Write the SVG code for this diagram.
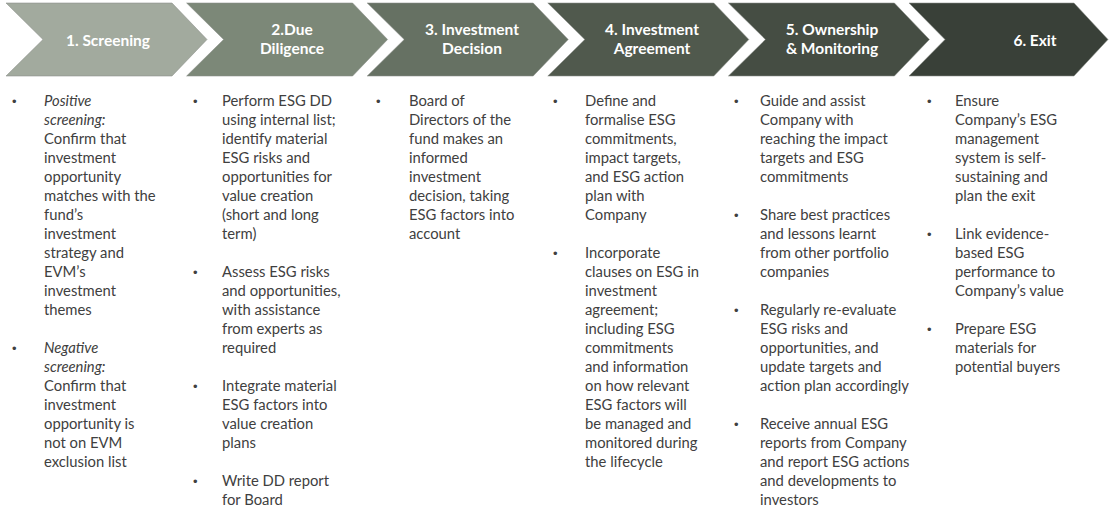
<svg xmlns="http://www.w3.org/2000/svg" width="1116" height="514" viewBox="0 0 1116 514">
<style>
.chev{stroke:#8a8d88;stroke-width:0.8;stroke-opacity:0.7}
.hd{font-family:Lato,"Liberation Sans",sans-serif;font-weight:bold;font-size:15.5px;fill:#ffffff;text-anchor:middle}
.tx{font-family:Lato,"Liberation Sans",sans-serif;font-size:14.8px;fill:#404040}
.bu{font-family:"Liberation Sans",sans-serif;font-size:13px;fill:#404040}
.it{font-style:italic}
</style>
<rect width="1116" height="514" fill="#ffffff"/>
<g id="connectors"></g>
<g id="step1">
<polygon class="chev" fill="#a2aa9e" points="6,3 172,3 207,39.5 172,76 6,76 43,39.5"/>
<text class="hd" x="108" y="45.5">1. Screening</text>
</g>
<g id="step2">
<polygon class="chev" fill="#7c8878" points="186.6,3 352.6,3 387.6,39.5 352.6,76 186.6,76 223.6,39.5"/>
<text class="hd" x="292" y="35">2.Due</text>
<text class="hd" x="292" y="54">Diligence</text>
</g>
<g id="step3">
<polygon class="chev" fill="#667163" points="367.2,3 533.2,3 568.2,39.5 533.2,76 367.2,76 404.2,39.5"/>
<text class="hd" x="472" y="35">3. Investment</text>
<text class="hd" x="472" y="54">Decision</text>
</g>
<g id="step4">
<polygon class="chev" fill="#50594d" points="547.8,3 713.8,3 748.8,39.5 713.8,76 547.8,76 584.8,39.5"/>
<text class="hd" x="652" y="35">4. Investment</text>
<text class="hd" x="652" y="54">Agreement</text>
</g>
<g id="step5">
<polygon class="chev" fill="#454d43" points="728.4,3 894.4,3 929.4,39.5 894.4,76 728.4,76 765.4,39.5"/>
<text class="hd" x="832" y="35">5. Ownership</text>
<text class="hd" x="832" y="54">&amp; Monitoring</text>
</g>
<g id="step6">
<polygon class="chev" fill="#394038" points="909,3 1074,3 1108,39.5 1074,76 909,76 945,39.5"/>
<text class="hd" x="1035" y="45.5">6. Exit</text>
</g>
<g id="col1">
<text class="bu" x="12" y="106">•</text>
<text class="bu" x="12" y="353">•</text>
<text class="tx">
<tspan x="44" y="106" class="it">Positive</tspan>
<tspan x="44" y="125" class="it">screening:</tspan>
<tspan x="44" y="144">Confirm that</tspan>
<tspan x="44" y="163">investment</tspan>
<tspan x="44" y="182">opportunity</tspan>
<tspan x="44" y="201">matches with the</tspan>
<tspan x="44" y="220">fund’s</tspan>
<tspan x="44" y="239">investment</tspan>
<tspan x="44" y="258">strategy and</tspan>
<tspan x="44" y="277">EVM’s</tspan>
<tspan x="44" y="296">investment</tspan>
<tspan x="44" y="315">themes</tspan>
<tspan x="44" y="353" class="it">Negative</tspan>
<tspan x="44" y="372" class="it">screening:</tspan>
<tspan x="44" y="391">Confirm that</tspan>
<tspan x="44" y="410">investment</tspan>
<tspan x="44" y="429">opportunity is</tspan>
<tspan x="44" y="448">not on EVM</tspan>
<tspan x="44" y="467">exclusion list</tspan>
</text>
</g>
<g id="col2">
<text class="bu" x="193" y="106">•</text>
<text class="bu" x="193" y="277">•</text>
<text class="bu" x="193" y="391">•</text>
<text class="bu" x="193" y="486">•</text>
<text class="tx">
<tspan x="222" y="106">Perform ESG DD</tspan>
<tspan x="222" y="125">using internal list;</tspan>
<tspan x="222" y="144">identify material</tspan>
<tspan x="222" y="163">ESG risks and</tspan>
<tspan x="222" y="182">opportunities for</tspan>
<tspan x="222" y="201">value creation</tspan>
<tspan x="222" y="220">(short and long</tspan>
<tspan x="222" y="239">term)</tspan>
<tspan x="222" y="277">Assess ESG risks</tspan>
<tspan x="222" y="296">and opportunities,</tspan>
<tspan x="222" y="315">with assistance</tspan>
<tspan x="222" y="334">from experts as</tspan>
<tspan x="222" y="353">required</tspan>
<tspan x="222" y="391">Integrate material</tspan>
<tspan x="222" y="410">ESG factors into</tspan>
<tspan x="222" y="429">value creation</tspan>
<tspan x="222" y="448">plans</tspan>
<tspan x="222" y="486">Write DD report</tspan>
<tspan x="222" y="505">for Board</tspan>
</text>
</g>
<g id="col3">
<text class="bu" x="376" y="106">•</text>
<text class="tx">
<tspan x="409" y="106">Board of</tspan>
<tspan x="409" y="125">Directors of the</tspan>
<tspan x="409" y="144">fund makes an</tspan>
<tspan x="409" y="163">informed</tspan>
<tspan x="409" y="182">investment</tspan>
<tspan x="409" y="201">decision, taking</tspan>
<tspan x="409" y="220">ESG factors into</tspan>
<tspan x="409" y="239">account</tspan>
</text>
</g>
<g id="col4">
<text class="bu" x="553" y="106">•</text>
<text class="bu" x="553" y="258">•</text>
<text class="tx">
<tspan x="585" y="106">Define and</tspan>
<tspan x="585" y="125">formalise ESG</tspan>
<tspan x="585" y="144">commitments,</tspan>
<tspan x="585" y="163">impact targets,</tspan>
<tspan x="585" y="182">and ESG action</tspan>
<tspan x="585" y="201">plan with</tspan>
<tspan x="585" y="220">Company</tspan>
<tspan x="585" y="258">Incorporate</tspan>
<tspan x="585" y="277">clauses on ESG in</tspan>
<tspan x="585" y="296">investment</tspan>
<tspan x="585" y="315">agreement;</tspan>
<tspan x="585" y="334">including ESG</tspan>
<tspan x="585" y="353">commitments</tspan>
<tspan x="585" y="372">and information</tspan>
<tspan x="585" y="391">on how relevant</tspan>
<tspan x="585" y="410">ESG factors will</tspan>
<tspan x="585" y="429">be managed and</tspan>
<tspan x="585" y="448">monitored during</tspan>
<tspan x="585" y="467">the lifecycle</tspan>
</text>
</g>
<g id="col5">
<text class="bu" x="734" y="106">•</text>
<text class="bu" x="734" y="220">•</text>
<text class="bu" x="734" y="315">•</text>
<text class="bu" x="734" y="429">•</text>
<text class="tx">
<tspan x="760" y="106">Guide and assist</tspan>
<tspan x="760" y="125">Company with</tspan>
<tspan x="760" y="144">reaching the impact</tspan>
<tspan x="760" y="163">targets and ESG</tspan>
<tspan x="760" y="182">commitments</tspan>
<tspan x="760" y="220">Share best practices</tspan>
<tspan x="760" y="239">and lessons learnt</tspan>
<tspan x="760" y="258">from other portfolio</tspan>
<tspan x="760" y="277">companies</tspan>
<tspan x="760" y="315">Regularly re-evaluate</tspan>
<tspan x="760" y="334">ESG risks and</tspan>
<tspan x="760" y="353">opportunities, and</tspan>
<tspan x="760" y="372">update targets and</tspan>
<tspan x="760" y="391">action plan accordingly</tspan>
<tspan x="760" y="429">Receive annual ESG</tspan>
<tspan x="760" y="448">reports from Company</tspan>
<tspan x="760" y="467">and report ESG actions</tspan>
<tspan x="760" y="486">and developments to</tspan>
<tspan x="760" y="505">investors</tspan>
</text>
</g>
<g id="col6">
<text class="bu" x="927" y="106">•</text>
<text class="bu" x="927" y="239">•</text>
<text class="bu" x="927" y="334">•</text>
<text class="tx">
<tspan x="955" y="106">Ensure</tspan>
<tspan x="955" y="125">Company’s ESG</tspan>
<tspan x="955" y="144">management</tspan>
<tspan x="955" y="163">system is self-</tspan>
<tspan x="955" y="182">sustaining and</tspan>
<tspan x="955" y="201">plan the exit</tspan>
<tspan x="955" y="239">Link evidence-</tspan>
<tspan x="955" y="258">based ESG</tspan>
<tspan x="955" y="277">performance to</tspan>
<tspan x="955" y="296">Company’s value</tspan>
<tspan x="955" y="334">Prepare ESG</tspan>
<tspan x="955" y="353">materials for</tspan>
<tspan x="955" y="372">potential buyers</tspan>
</text>
</g>
</svg>
